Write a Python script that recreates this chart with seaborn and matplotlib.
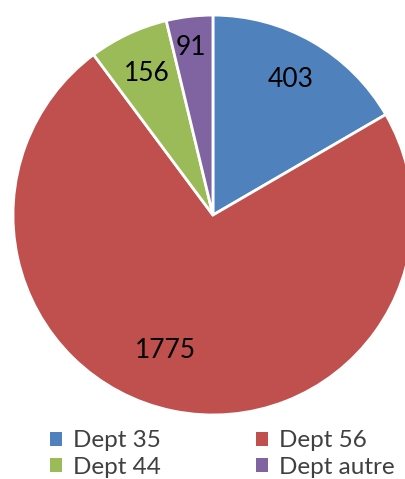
import matplotlib
matplotlib.use('Agg')
from matplotlib import pyplot as plt
from matplotlib.patches import Patch
import seaborn as sns

# Data
depts = ['Dept 35', 'Dept 56', 'Dept 44', 'Dept autre']
counts = [403, 1775, 156, 91]
colors = ['#4F81BD', '#C0504D', '#9BBB59', '#8064A2']

sns.set_theme(style='white')
plt.rcParams['font.family'] = ['Lato', 'DejaVu Sans']
palette = sns.color_palette(colors)

fig = plt.figure(figsize=(4.06, 4.79), dpi=100)
ax = fig.add_axes([0.032, 0.1336, 0.985, 0.835])

wedges, texts, autotexts = ax.pie(
    counts, colors=palette, startangle=90, counterclock=False,
    autopct=lambda p: f'{p * sum(counts) / 100:.0f}', pctdistance=0.78,
    wedgeprops={'edgecolor': 'white', 'linewidth': 2},
    textprops={'fontsize': 19, 'color': 'black'})
# nudge labels the way Excel's "best fit" placed them
autotexts[1].set_position((-0.24, -0.68))
autotexts[3].set_position((-0.11, 0.84))
ax.set_xlim(-1, 1)
ax.set_ylim(-1, 1)
ax.set_aspect('equal')
ax.axis('off')

# legend filled row by row: 35, 56 / 44, autre
order = [0, 2, 1, 3]
handles = [Patch(facecolor=palette[i], edgecolor='none') for i in order]
labels = [depts[i] for i in order]
fig.legend(handles, labels, ncol=2, loc='upper left',
           bbox_to_anchor=(0.1, 0.122), frameon=False, fontsize=17.5,
           handlelength=0.5, handleheight=0.5, handletextpad=0.45,
           columnspacing=3.9, labelspacing=0.22, borderaxespad=0,
           labelcolor='#404040')

fig.savefig('out.png', dpi=100)
